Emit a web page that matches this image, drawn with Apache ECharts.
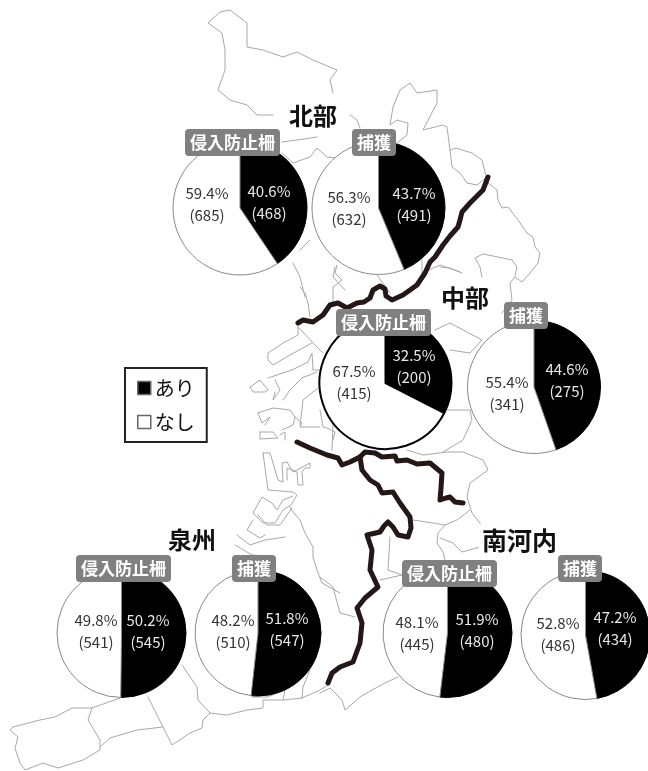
<!DOCTYPE html>
<html>
<head>
<meta charset="utf-8">
<style>html,body{margin:0;padding:0;background:#fff}#c{width:648px;height:771px}</style>
<script src="https://cdn.jsdelivr.net/npm/echarts@6/dist/echarts.min.js"></script>
</head>
<body>
<div id="c"></div>
<script>
// ---- chart values ----
const regions = ['北部', '中部', '泉州', '南河内'];
const tagFence = '侵入防止柵';
const tagCapture = '捕獲';
const legendNames = ['あり', 'なし'];
const fenceYes = [468, 200, 545, 480];
const fenceNo = [685, 415, 541, 445];
const fenceYesPct = ['40.6', '32.5', '50.2', '51.9'];
const fenceNoPct = ['59.4', '67.5', '49.8', '48.1'];
const captureYes = [491, 275, 547, 434];
const captureNo = [632, 341, 510, 486];
const captureYesPct = ['43.7', '44.6', '51.8', '47.2'];
const captureNoPct = ['56.3', '55.4', '48.2', '52.8'];

// ---- pie layout: fence pie / capture pie of each region ----
const fenceCentre = [[240, 208], [385.5, 383], [121.5, 633], [447.5, 633]];
const captureCentre = [[378.5, 208], [534, 387], [258, 633], [585.5, 635]];
const fenceRadius = [67, 66, 64.5, 64.5];
const captureRadius = [66.5, 66.5, 63, 64.5];
const fenceLabelAt = [[[269, 202.5], [207, 204]], [[414, 366], [354, 382]], [[148, 631], [96, 631]], [[477, 630], [417, 633.5]]];
const captureLabelAt = [[[414, 204.5], [349, 208.5]], [[567, 380.5], [507, 393]], [[287, 629], [233, 631]], [[615, 628], [558, 634.5]]];
const fenceTagBox = [[185, 129], [336, 309], [76, 555], [402, 560]];
const captureTagBox = [[352, 129], [504, 302], [232, 555], [558, 555]];
const titleBox = [[286, 100], [438, 282], [165, 524], [479, 524]];
const titleSize = [24, 24, 24, 25];

// ---- background map: bold region dividers and thin municipal outlines, in picture units ----
const dividers = [
  [[488,177],[483,190],[470,203],[462,212],[460,220],[458,227],[450,236],[443,245],[435,257],[430,262],[425,273],[417,285],[403,295],[392,300],[386,296],[385,289],[380,286],[373,290],[370,298],[364,302],[357,303],[347,308],[338,303],[330,305],[323,315],[313,322],[303,320],[298,323]],
  [[297,442],[310,448],[327,455],[338,458],[342,465],[350,462],[360,457],[365,452],[375,453],[382,457],[395,456],[397,461],[407,460],[417,464],[430,463],[442,473],[441,488],[440,500],[446,498],[450,497],[455,502],[463,503]],
  [[360,457],[362,470],[370,480],[378,485],[382,493],[393,492],[400,503],[410,517],[411,528],[408,537],[398,535],[393,527],[388,522],[384,526],[380,532],[367,535],[372,550],[370,570],[378,587],[365,598],[357,608],[362,623],[360,643],[353,662],[340,667],[332,673],[328,683]]
];
const outlines = [
  [[273,115],[267,115],[257,115],[247,105],[230,100],[218,90],[225,70],[225,50],[222,33],[208,23],[220,12],[230,10],[247,23],[247,47],[263,50],[283,57],[297,52],[313,60],[337,70],[330,80],[333,93]],
  [[350,115],[357,120],[360,128]],
  [[282,142],[297,140],[317,137]],
  [[282,153],[293,163],[310,157],[317,148],[327,157],[335,158]],
  [[397,143],[407,135],[408,123],[397,120],[390,125],[393,107],[400,90],[410,83],[417,93],[437,90],[437,103],[423,130],[443,125],[447,127],[450,150],[452,167],[460,173],[467,183],[477,185],[487,177]],
  [[450,150],[456,148],[472,153],[482,160],[485,172],[488,183],[497,190],[498,200],[502,208],[508,207],[518,220],[527,233],[533,237],[535,247],[540,253],[538,263],[530,273],[522,282],[515,277],[510,283],[512,300],[502,313]],
  [[482,277],[480,267],[475,258],[483,254],[498,257],[512,260],[517,267],[515,276]],
  [[440,267],[450,268],[462,273]],
  [[435,330],[450,323],[467,332],[482,340],[470,353],[450,350]],
  [[447,410],[470,410],[472,420],[463,440],[443,452]],
  [[333,423],[332,450]],
  [[407,450],[423,455],[447,452],[463,452],[483,460],[488,470],[470,483],[467,497],[472,513],[483,527]],
  [[413,520],[433,523],[445,525],[457,520],[470,510]],
  [[445,525],[438,533],[437,543],[443,552],[445,560]],
  [[440,538],[453,543],[462,552],[480,547]],
  [[390,537],[388,570],[402,575],[380,580]],
  [[398,677],[387,682],[372,690],[360,697],[345,710],[342,700],[330,688],[320,693]],
  [[320,577],[333,587],[340,613],[355,617]],
  [[120,698],[92,708],[72,708],[55,717],[40,720],[13,727],[10,730],[18,737],[15,748],[20,763],[25,770],[43,763],[58,768],[83,760],[100,750],[100,740],[88,720],[92,708]],
  [[100,747],[110,738],[137,730],[163,727],[148,697]],
  [[163,727],[172,745],[190,733],[202,728],[203,720],[210,713],[198,700],[197,687],[182,665]],
  [[210,713],[227,715],[247,710],[263,708],[263,700],[283,700],[302,698],[320,690],[328,685]],
  [[252,697],[267,697],[285,690],[283,700]],
  [[302,698],[303,687],[310,670]],
  [[322,583],[340,593]],
  [[322,583],[317,570],[313,557],[313,547],[305,533],[300,520],[293,512],[290,507]],
  [[335,267],[333,277],[345,290]],[[293,263],[300,277],[305,297]],[[310,240],[300,250]],[[377,275],[390,293]],
  [[422,260],[422,273],[440,265],[460,272]],
  [[337,265],[335,273],[342,280],[333,287],[333,302]],
  [[300,287],[305,293],[308,303],[310,317]],
  [[298,327],[298,335],[283,343],[268,353],[268,360],[273,365],[290,355],[312,343]],
  [[298,327],[317,347],[323,353]],
  [[268,378],[292,370],[308,362],[312,353],[313,370],[320,370]],
  [[250,387],[260,380],[268,390],[265,392],[253,392],[250,387]],
  [[275,380],[280,390],[273,400],[275,392]],
  [[283,400],[290,390],[302,378],[317,372]],
  [[258,413],[273,408],[290,410],[295,417],[293,425],[282,430]],
  [[258,413],[262,423],[270,417],[265,425]],
  [[295,417],[302,423],[300,427],[320,427]],
  [[300,425],[302,410],[303,400],[318,388]],
  [[260,432],[273,432],[278,438],[260,439],[260,432]],
  [[280,435],[285,432],[285,440]],
  [[320,410],[323,427],[327,428],[335,432],[333,440]],
  [[263,453],[270,453],[278,480],[283,482],[282,463],[287,462],[293,472],[310,463],[310,468],[305,468],[302,472],[303,485],[298,485],[297,472],[287,468],[287,480]],
  [[263,453],[268,490],[293,492],[297,495],[291,505],[283,510],[275,523],[263,523],[253,513],[262,497],[272,503],[277,510],[283,500],[293,496]],
  [[258,515],[267,525],[280,525],[292,508]],
  [[253,520],[247,530],[260,538],[265,535]],
  [[237,535],[250,545],[265,540],[285,537]],
  [[235,545],[252,555],[267,556]]
];

// ---- hidden scales spanning the picture ----
const chart = echarts.init(document.getElementById('c'), null, {renderer: 'canvas'});
const FONT = '"Noto Sans CJK JP", sans-serif';

function mapSeries(list, width, color, z, cap) {
  return list.map(pts => ({
    type: 'line', data: pts, symbol: 'none', silent: true, animation: false, z,
    lineStyle: {width, color, cap, join: 'round'}, legendHoverLink: false
  }));
}
function pieSeries(yes, no, yesPct, noPct, centre, radius, at, strokes) {
  return regions.map((r, i) => ({
    type: 'pie', name: r, center: centre[i], radius: radius[i], startAngle: 90, clockwise: true,
    animation: false, silent: true, avoidLabelOverlap: false, z: 3,
    labelLine: {show: false},
    label: {show: true, position: 'inside', fontFamily: FONT, fontSize: 15, lineHeight: 22, align: 'center', verticalAlign: 'middle'},
    data: [
      {name: legendNames[0], value: yes[i], itemStyle: {color: '#000', borderColor: '#000', borderWidth: strokes[i]},
       label: {color: '#e8e8e8', formatter: yesPct[i] + '%\n(' + yes[i] + ')'}},
      {name: legendNames[1], value: no[i], itemStyle: {color: '#fff', borderColor: strokes[i] > 1 ? '#000' : '#888', borderWidth: strokes[i]},
       label: {color: '#333', formatter: noPct[i] + '%\n(' + no[i] + ')'}}
    ],
    labelLayout: p => ({x: at[i][p.dataIndex][0], y: at[i][p.dataIndex][1], align: 'center', verticalAlign: 'middle'})
  }));
}
function tag(text, box) {
  return {
    text, left: box[0], top: box[1], padding: [5, 5], backgroundColor: '#808080', borderRadius: 4, z: 6,
    textStyle: {color: '#fff', fontFamily: FONT, fontSize: 17, fontWeight: 'bold', lineHeight: 17}
  };
}

chart.setOption({
  animation: false,
  backgroundColor: '#fff',
  grid: {left: 0, right: 0, top: 0, bottom: 0},
  xAxis: {type: 'value', min: 0, max: 648, show: false},
  yAxis: {type: 'value', min: 0, max: 771, inverse: true, show: false},
  legend: {
    data: legendNames, orient: 'vertical', left: 125, top: 368, selectedMode: false,
    borderColor: '#222', borderWidth: 2, padding: [9, 12, 9, 12], itemGap: 12, itemWidth: 13, itemHeight: 13,
    backgroundColor: '#fff', icon: 'rect', z: 6,
    itemStyle: {borderColor: '#666', borderWidth: 1.5},
    textStyle: {fontFamily: FONT, fontSize: 20, color: '#111', lineHeight: 22, padding: [0, 0, 0, -1]}
  },
  title: [
    ...regions.map((r, i) => ({
      text: r, left: titleBox[i][0], top: titleBox[i][1], padding: [3, 3], backgroundColor: '#fff', z: 5,
      textStyle: {color: '#111', fontFamily: FONT, fontSize: titleSize[i], fontWeight: 'bold', lineHeight: 26}
    })),
    ...fenceTagBox.map(b => tag(tagFence, b)),
    ...captureTagBox.map(b => tag(tagCapture, b))
  ],
  series: [
    ...mapSeries(outlines, 1, '#a8a8a8', 1, 'round'),
    ...mapSeries(dividers, 5, '#231815', 2, 'round'),
    ...pieSeries(fenceYes, fenceNo, fenceYesPct, fenceNoPct, fenceCentre, fenceRadius, fenceLabelAt, [1, 2, 1, 1]),
    ...pieSeries(captureYes, captureNo, captureYesPct, captureNoPct, captureCentre, captureRadius, captureLabelAt, [1, 1, 1, 1])
  ]
});
</script>
</body>
</html>
